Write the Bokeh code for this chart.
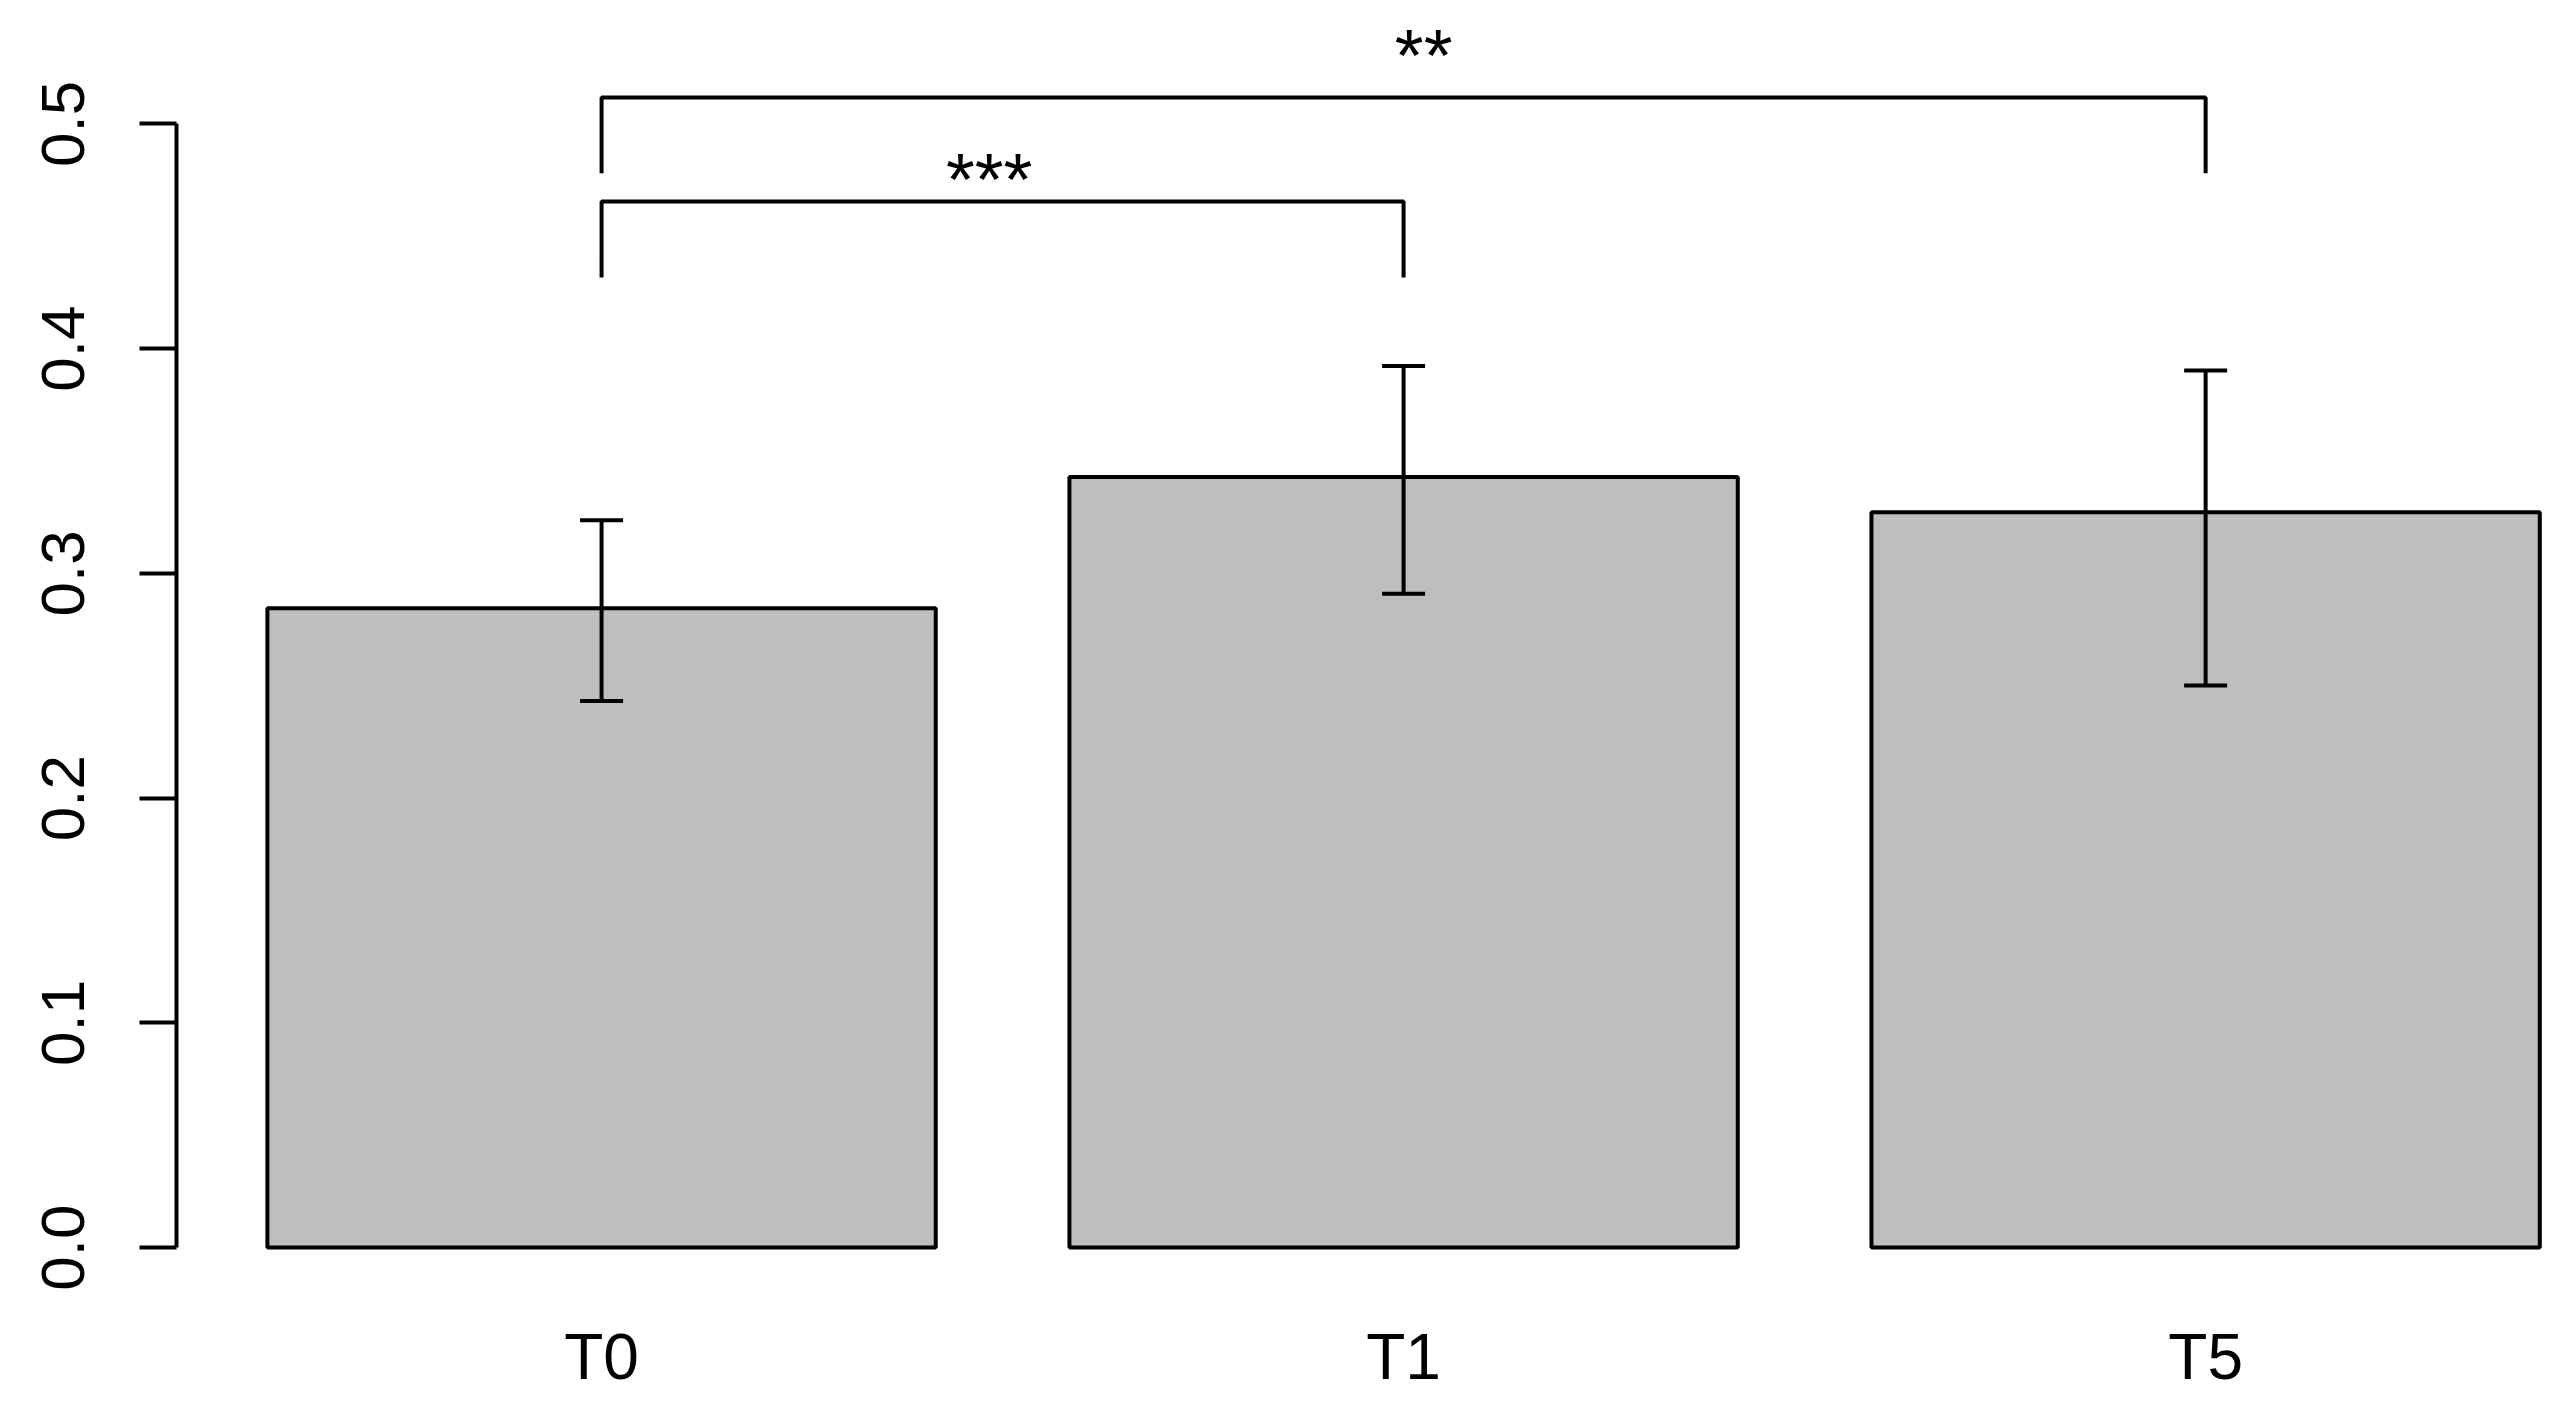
from bokeh.plotting import figure
from bokeh.models import Range1d, FixedTicker, ColumnDataSource
from bokeh.embed import file_html
from bokeh.resources import INLINE
from bokeh.core.properties import value

# ---- data ----
categories = ["T0", "T1", "T5"]
means = [0.2844, 0.3428, 0.3272]
err_low = [0.2432, 0.2909, 0.2501]
err_high = [0.3236, 0.3922, 0.3902]

y_ticks = [0.0, 0.1, 0.2, 0.3, 0.4, 0.5]
y_tick_labels = ["0.0", "0.1", "0.2", "0.3", "0.4", "0.5"]

bracket_from = ["T0", "T0"]
bracket_to = ["T1", "T5"]
bracket_top = [0.4654, 0.5117]
bracket_foot = [0.4316, 0.4780]
sig_labels = ["***", "**"]
sig_x = [1.28, 1.93]
sig_y = [0.4803, 0.5353]

# ---- layout (R barplot style: width 1, space 0.2) ----
BAR_W = 1.0
SPACE = 0.2
xpos = [SPACE * (i + 1) + BAR_W * (i + 0.5) for i in range(len(categories))]
xmap = dict(zip(categories, xpos))

FONT = "Liberation Sans"
LW = 4

W, H = 2550, 1400
p = figure(width=W, height=H, output_backend="svg", toolbar_location=None,
           x_range=Range1d(0.064, 3.616), y_range=Range1d(-0.02, 0.5513),
           min_border_left=176, min_border_right=0, min_border_top=8,
           min_border_bottom=108)
p.outline_line_color = None
p.grid.visible = False
p.background_fill_color = "white"
p.border_fill_color = "white"

src = ColumnDataSource(dict(x=xpos, top=means, lo=err_low, hi=err_high, cat=categories))
p.vbar(x="x", top="top", bottom=0, width=BAR_W, source=src,
       fill_color="#bebebe", line_color="black", line_width=LW)

# error bars
p.segment(x0="x", y0="lo", x1="x", y1="hi", source=src, line_color="black", line_width=LW)
p.dash(x="x", y="hi", size=43, source=src, line_color="black", line_width=LW)
p.dash(x="x", y="lo", size=43, source=src, line_color="black", line_width=LW)

# significance brackets
xs, ys = [], []
for a, b, t, f in zip(bracket_from, bracket_to, bracket_top, bracket_foot):
    xs.append([xmap[a], xmap[a], xmap[b], xmap[b]])
    ys.append([f, t, t, f])
p.multi_line(xs=xs, ys=ys, line_color="black", line_width=LW)

p.text(x=sig_x, y=sig_y, text=sig_labels, text_align="center",
       text_baseline="alphabetic", y_offset=11,
       text_font=value(FONT), text_font_size="74px", text_color="black")

# axes
xa = p.xaxis[0]
xa.ticker = FixedTicker(ticks=xpos)
xa.major_label_overrides = {x: c for x, c in zip(xpos, categories)}
xa.axis_line_color = None
xa.major_tick_line_color = None
xa.minor_tick_line_color = None
xa.major_tick_out = 0
xa.major_tick_in = 0
xa.major_label_standoff = 28
xa.major_label_text_font = FONT
xa.major_label_text_font_size = "64px"
xa.major_label_text_color = "black"

ya = p.yaxis[0]
ya.ticker = FixedTicker(ticks=y_ticks)
ya.major_label_overrides = {t: l for t, l in zip(y_ticks, y_tick_labels)}
ya.bounds = (y_ticks[0], y_ticks[-1])
ya.axis_line_width = LW
ya.axis_line_color = "black"
ya.major_tick_line_width = LW
ya.major_tick_line_color = "black"
ya.major_tick_out = 37
ya.major_tick_in = 0
ya.minor_tick_line_color = None
ya.major_label_orientation = "vertical"
ya.major_label_standoff = 55
ya.major_label_text_font = FONT
ya.major_label_text_font_size = "62px"
ya.major_label_text_color = "black"

open("out.html", "w").write(file_html(p, INLINE))
